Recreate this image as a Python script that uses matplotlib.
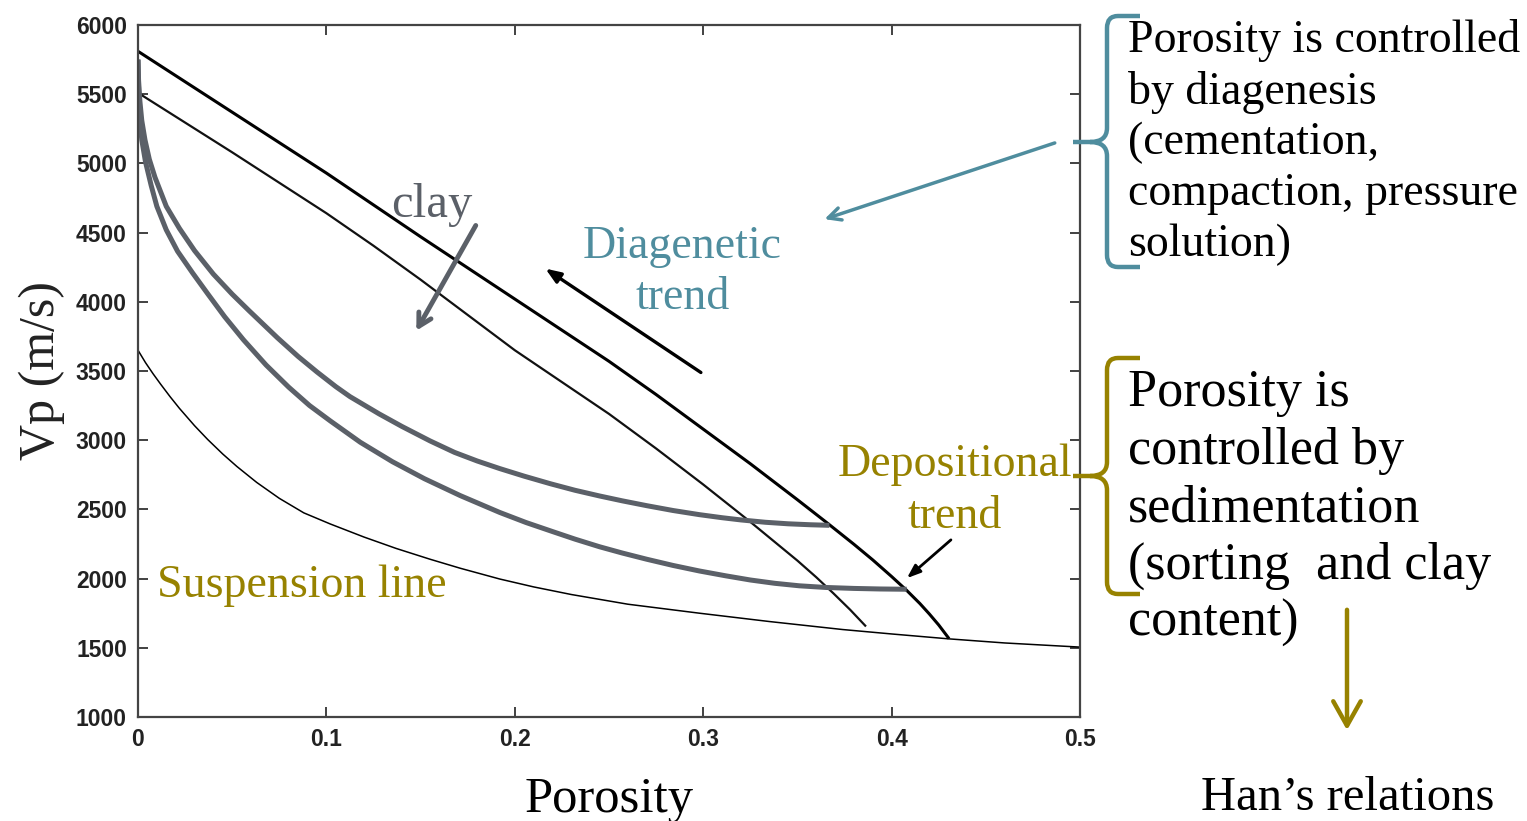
import matplotlib
matplotlib.use("Agg")
import matplotlib.pyplot as plt
from matplotlib.path import Path
from matplotlib.patches import PathPatch, FancyArrowPatch

# ---------------- data ----------------
top_phi = [0.0, 0.025, 0.05, 0.075, 0.10, 0.125, 0.15, 0.175, 0.20, 0.225, 0.25,
           0.275, 0.30, 0.325, 0.35, 0.366, 0.38, 0.39, 0.40, 0.408, 0.415,
           0.42, 0.425, 0.43]
top_vp = [5810, 5590, 5370, 5150, 4930, 4700, 4470, 4245, 4020, 3795, 3570,
          3330, 3080, 2830, 2570, 2400, 2248, 2135, 2015, 1915, 1820,
          1745, 1665, 1575]

mid_phi = [0.0, 0.025, 0.05, 0.075, 0.10, 0.125, 0.15, 0.175, 0.20, 0.225, 0.25,
           0.275, 0.30, 0.325, 0.35, 0.36, 0.369, 0.378, 0.386]
mid_vp = [5510, 5295, 5080, 4860, 4640, 4405, 4160, 3905, 3650, 3420, 3190,
          2940, 2680, 2410, 2130, 2010, 1895, 1775, 1660]

susp_phi = [0.0, 0.004, 0.008, 0.012, 0.017, 0.022, 0.03, 0.037, 0.045, 0.0525,
            0.063, 0.075, 0.088, 0.102, 0.12, 0.137, 0.155, 0.171, 0.192,
            0.21, 0.23, 0.26, 0.298, 0.335, 0.374, 0.40, 0.43, 0.46, 0.5]
susp_vp = [3650, 3560, 3480, 3405, 3315, 3230, 3105, 3005, 2900, 2810,
           2695, 2580, 2475, 2395, 2300, 2218, 2140, 2075, 1997,
           1940, 1885, 1815, 1750, 1690, 1632, 1600, 1565, 1535, 1505]

clayA_phi = [0.0, 0.0003, 0.001, 0.002, 0.0037, 0.006, 0.009, 0.015, 0.022, 0.03,
             0.04, 0.05, 0.059, 0.074, 0.085, 0.095, 0.105, 0.1125, 0.128, 0.14,
             0.155, 0.168, 0.18, 0.192, 0.205, 0.219, 0.232, 0.245, 0.257, 0.27,
             0.284, 0.298, 0.31, 0.32, 0.333, 0.345, 0.357, 0.367]
clayA_vp = [5750, 5600, 5450, 5310, 5170, 5030, 4900, 4690, 4530, 4370,
            4200, 4055, 3935, 3740, 3605, 3493, 3387, 3315, 3190, 3100,
            2995, 2912, 2850, 2795, 2740, 2685, 2638, 2597, 2562, 2527,
            2492, 2462, 2440, 2424, 2407, 2396, 2389, 2385]

clayB_phi = [0.0, 0.0002, 0.0005, 0.001, 0.002, 0.004, 0.007, 0.010, 0.015, 0.021,
             0.029, 0.037, 0.046, 0.056, 0.068, 0.08, 0.091, 0.102, 0.118, 0.135,
             0.152, 0.171, 0.192, 0.206, 0.22, 0.232, 0.245, 0.257, 0.27, 0.284,
             0.298, 0.312, 0.325, 0.338, 0.351, 0.365, 0.38, 0.394, 0.408]
clayB_vp = [5750, 5590, 5450, 5320, 5170, 5010, 4840, 4690, 4520, 4365,
            4208, 4058, 3892, 3725, 3543, 3383, 3251, 3140, 2985, 2845,
            2722, 2600, 2478, 2405, 2340, 2285, 2230, 2185, 2140, 2095,
            2055, 2020, 1990, 1966, 1948, 1936, 1929, 1925, 1923]

x_ticks = [0, 0.1, 0.2, 0.3, 0.4, 0.5]
x_ticklabels = ["0", "0.1", "0.2", "0.3", "0.4", "0.5"]
y_ticks = [1000, 1500, 2000, 2500, 3000, 3500, 4000, 4500, 5000, 5500, 6000]

upper_text = ["Porosity is controlled", "by diagenesis", "(cementation,",
              "compaction, pressure", "solution)"]
lower_text = ["Porosity is", "controlled by", "sedimentation",
              "(sorting  and clay", "content)"]

# ---------------- style ----------------
TEAL = "#4f8d9e"
OLIVE = "#978200"
GRAY = "#5b6068"
SERIF = ["Liberation Serif", "DejaVu Serif"]

W, H = 1527, 821
fig = plt.figure(figsize=(W / 100, H / 100), dpi=100, facecolor="white")
ax = fig.add_axes([138 / W, 1 - 717 / H, (1080 - 138) / W, (717 - 25) / H])

ax.plot(susp_phi, susp_vp, color="black", lw=1.1)
ax.plot(mid_phi, mid_vp, color="#111111", lw=1.6)
ax.plot(top_phi, top_vp, color="black", lw=2.2)
ax.plot(clayA_phi, clayA_vp, color=GRAY, lw=3.6, solid_capstyle="butt",
        solid_joinstyle="round")
ax.plot(clayB_phi, clayB_vp, color=GRAY, lw=3.6, solid_capstyle="butt",
        solid_joinstyle="round")

ax.set_xlim(0, 0.5)
ax.set_ylim(1000, 6000)
ax.set_xticks(x_ticks)
ax.set_xticklabels(x_ticklabels)
ax.set_yticks(y_ticks)
ax.tick_params(direction="in", length=7, width=1.3, top=True, right=True,
               colors="#333333", pad=8)
for lab in ax.get_xticklabels() + ax.get_yticklabels():
    lab.set_fontfamily("Liberation Sans")
    lab.set_fontweight("bold")
    lab.set_fontsize(16.5)
    lab.set_color("#222222")
for sp in ax.spines.values():
    sp.set_linewidth(1.6)
    sp.set_color("#444444")

ax.set_xlabel("Porosity", fontsize=36.5, family=SERIF, color="black", labelpad=18)
ax.set_ylabel("Vp (m/s)", fontsize=36, family=SERIF, color="#222222", labelpad=8)

# ---------------- annotations inside the axes ----------------
ax.annotate("", xy=(0.147, 3774), xytext=(0.180, 4569),
            arrowprops=dict(arrowstyle="->,head_length=0.9,head_width=0.5",
                            color=GRAY, lw=3.5))
ax.text(0.156, 4699, "clay", color=GRAY, fontsize=35, family=SERIF,
        ha="center", va="center")

ax.annotate("", xy=(0.215, 4251), xytext=(0.300, 3478),
            arrowprops=dict(arrowstyle="-|>,head_length=0.9,head_width=0.35",
                            color="black", lw=2.4))
ax.text(0.289, 4396, "Diagenetic", color=TEAL, fontsize=33, family=SERIF,
        ha="center", va="center")
ax.text(0.289, 4027, "trend", color=TEAL, fontsize=33, family=SERIF,
        ha="center", va="center")

ax.annotate("", xy=(0.407, 1990), xytext=(0.4326, 2293),
            arrowprops=dict(arrowstyle="-|>,head_length=0.8,head_width=0.3",
                            color="black", lw=2.0))
ax.text(0.4337, 2821, "Depositional", color=OLIVE, fontsize=33, family=SERIF,
        ha="center", va="center")
ax.text(0.4337, 2445, "trend", color=OLIVE, fontsize=33, family=SERIF,
        ha="center", va="center")

ax.text(0.087, 1946, "Suspension line", color=OLIVE, fontsize=33, family=SERIF,
        ha="center", va="center")

# teal arrow from the brace into the plot
ax.annotate("", xy=(0.363, 4591), xytext=(0.488, 5154),
            arrowprops=dict(arrowstyle="->,head_length=0.9,head_width=0.45",
                            color=TEAL, lw=2.5), annotation_clip=False)


# ---------------- braces & right-hand text ----------------
def P(x, y):
    return (x / W, 1 - y / H)


def brace(top, mid, bot, color):
    verts = [P(1140, top), P(1118, top), P(1107, top), P(1107, top + 12),
             P(1107, mid - 14), P(1107, mid), P(1090, mid), P(1073, mid),
             P(1090, mid), P(1107, mid), P(1107, mid + 14),
             P(1107, bot - 12), P(1107, bot), P(1118, bot), P(1140, bot)]
    codes = [Path.MOVETO, Path.LINETO, Path.CURVE3, Path.CURVE3,
             Path.LINETO, Path.CURVE3, Path.CURVE3, Path.LINETO,
             Path.MOVETO, Path.CURVE3, Path.CURVE3,
             Path.LINETO, Path.CURVE3, Path.CURVE3, Path.LINETO]
    fig.add_artist(PathPatch(Path(verts, codes), transform=fig.transFigure,
                             facecolor="none", edgecolor=color, lw=3.2))


brace(16, 142, 267, TEAL)
brace(358, 476, 594, OLIVE)

up_y = [41, 93, 143, 194, 245]
for t, yy in zip(upper_text, up_y):
    fig.text(1128 / W, 1 - yy / H, t, fontsize=33, family=SERIF, color="black",
             ha="left", va="center")
lo_y = [393, 451, 508, 566, 623]
for t, yy in zip(lower_text, lo_y):
    fig.text(1128 / W, 1 - yy / H, t, fontsize=37.5, family=SERIF, color="black",
             ha="left", va="center")

fig.add_artist(FancyArrowPatch(
    P(1347, 607), P(1347, 733), transform=fig.transFigure,
    arrowstyle="->,head_length=0.8,head_width=0.45", mutation_scale=22,
    color=OLIVE, lw=3.2))

fig.text(1348 / W, 1 - 820 / H, "Han\u2019s relations", fontsize=35, family=SERIF,
         color="black", ha="center", va="bottom")

fig.savefig("out.png", dpi=100, facecolor="white")
